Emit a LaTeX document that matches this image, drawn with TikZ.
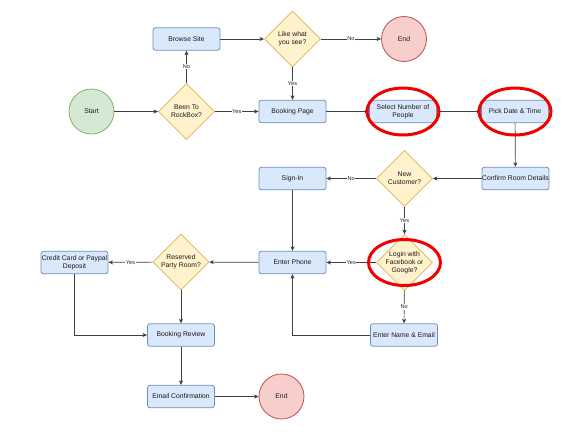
\documentclass[tikz,border=0pt]{standalone}
\usepackage{fontspec}
\setmainfont{Liberation Sans}
\usetikzlibrary{shapes.geometric,arrows.meta}
\definecolor{bfill}{HTML}{DAE8FC}
\definecolor{bdraw}{HTML}{6C8EBF}
\definecolor{yfill}{HTML}{FFF2CC}
\definecolor{ydraw}{HTML}{D6B656}
\definecolor{gfill}{HTML}{D5E8D4}
\definecolor{gdraw}{HTML}{82B366}
\definecolor{rfill}{HTML}{F8CECC}
\definecolor{rdraw}{HTML}{B85450}
\definecolor{edgec}{HTML}{404040}
\definecolor{hilite}{HTML}{F00000}
\begin{document}
\begin{tikzpicture}[x=1pt,y=-1pt,
  txt/.style={font=\fontsize{6.8}{8}\selectfont, align=center, text=black!90},
  box/.style={txt, draw=bdraw, fill=bfill, line width=0.8pt, rounded corners=2.5pt, minimum width=67pt, minimum height=22.5pt, inner sep=0pt},
  dec/.style={diamond, aspect=1, draw=ydraw, fill=yfill, line width=0.8pt, minimum width=56pt, minimum height=56pt, inner sep=0pt},
  startc/.style={txt, circle, draw=gdraw, fill=gfill, line width=0.8pt, minimum size=45pt, inner sep=0pt},
  endc/.style={txt, circle, draw=rdraw, fill=rfill, line width=0.8pt, minimum size=45pt, inner sep=0pt},
  arr/.style={draw=edgec, line width=0.7pt, -{Stealth[length=4.5pt,width=4pt,inset=1.2pt]}},
  lab/.style={font=\fontsize{5.6}{6.5}\selectfont, fill=white, inner sep=0.6pt, text=black!85},
  hl/.style={draw=hilite, line width=3pt}
]
\fill[white] (0,0) rectangle (574,437);
\useasboundingbox (0,0) rectangle (574,437);

% nodes
\node[startc] (start) at (91.5,111.5) {Start};
\node[dec, label={[txt]center:{Been To\\RockBox?}}] (been) at (186.5,111.5) {};
\node[box] (browse) at (186.5,39) {Browse Site};
\node[dec, label={[txt]center:{Like what\\you see?}}] (like) at (292.5,39) {};
\node[endc] (end1) at (404,39) {End};
\node[box] (booking) at (292.5,111.5) {Booking Page};
\node[box] (select) at (403,111.5) {Select Number of\\People};
\node[box] (pick) at (515,111.5) {Pick Date \& Time};
\node[box] (confirm) at (515.5,178.5) {Confirm Room Details};
\node[dec, label={[txt]center:{New\\Customer?}}] (newc) at (404.5,178.5) {};
\node[box] (signin) at (292.5,178.5) {Sign-In};
\node[dec, label={[txt]center:{Login with\\Facebook or\\Google?}}] (login) at (404.5,262.5) {};
\node[box] (phone) at (292.5,262.5) {Enter Phone};
\node[box] (name) at (404,335) {Enter Name \& Email};
\node[dec, label={[txt]center:{Reserved\\Party Room?}}] (reserved) at (181,262) {};
\node[box] (credit) at (74.5,262.5) {Credit Card or Paypal\\Deposit};
\node[box] (review) at (181,335) {Booking Review};
\node[box] (email) at (181,396.5) {Email Confirmation};
\node[endc] (end2) at (281.5,396.5) {End};

% connectors
\draw[arr] (start) -- (been);
\draw[arr] (been) -- node[lab]{No} (browse);
\draw[arr] (been) -- node[lab]{Yes} (booking);
\draw[arr] (browse) -- (like);
\draw[arr] (like) -- node[lab]{No} (end1);
\draw[arr] (like) -- node[lab]{Yes} (booking);
\draw[arr] (booking) -- (select);
\draw[arr] (select) -- (pick);
\draw[arr] (pick) -- (confirm);
\draw[arr] (confirm) -- (newc);
\draw[arr] (newc) -- node[lab]{No} (signin);
\draw[arr] (newc) -- node[lab]{Yes} (login);
\draw[arr] (signin) -- (phone);
\draw[arr] (login) -- node[lab]{Yes} (phone);
\draw[arr] (login) -- node[lab]{No} (name);
\draw[arr] (name.west) -| (phone.south);
\draw[arr] (phone) -- (reserved);
\draw[arr] (reserved) -- node[lab]{Yes} (credit);
\draw[arr] (reserved) -- (review);
\draw[arr] (credit.south) |- (review.west);
\draw[arr] (review) -- (email);
\draw[arr] (email) -- (end2);

% highlight ellipses
\draw[hl] (select.center) ellipse (36pt and 23.5pt);
\draw[hl] (pick.center) ellipse (36pt and 23.5pt);
\draw[hl] (login.center) ellipse (36pt and 23pt);
\end{tikzpicture}
\end{document}
